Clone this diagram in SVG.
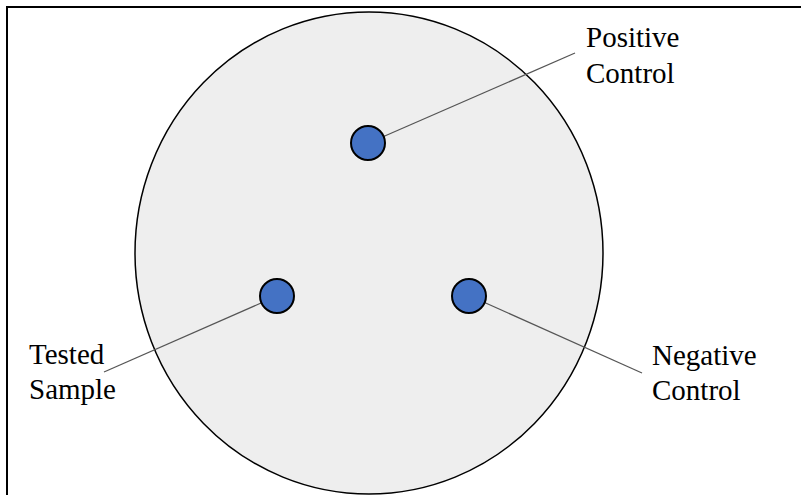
<svg xmlns="http://www.w3.org/2000/svg" width="801" height="495" viewBox="0 0 801 495">
  <style>
    .frame { fill: none; stroke: #000; stroke-width: 2; }
    .plate { fill: #eeeeee; stroke: #000; stroke-width: 1.5; }
    .well { fill: #4472c4; stroke: #000; stroke-width: 2; }
    .leader { stroke: #555; stroke-width: 1.2; fill: none; }
    .label { font-family: "Liberation Serif", "Times New Roman", serif; font-size: 29px; fill: #000; }
  </style>
  <rect width="801" height="495" fill="#fff"/>
  <path class="frame" d="M7 520 V7 H820"/>
  <g id="plate">
    <ellipse class="plate" cx="369" cy="253" rx="234" ry="241"/>
  </g>
  <g id="connectors">
    <line class="leader" x1="371" y1="142" x2="575" y2="53"/>
    <line class="leader" x1="277" y1="296" x2="104" y2="372"/>
    <line class="leader" x1="470" y1="296" x2="642" y2="373"/>
  </g>
  <g id="positive-control">
    <circle class="well" cx="368" cy="143" r="17"/>
    <text class="label" x="586" y="47">Positive</text>
    <text class="label" x="586" y="83">Control</text>
  </g>
  <g id="tested-sample">
    <circle class="well" cx="277" cy="296" r="17"/>
    <text class="label" x="29" y="364">Tested</text>
    <text class="label" x="29" y="399">Sample</text>
  </g>
  <g id="negative-control">
    <circle class="well" cx="469" cy="296" r="17"/>
    <text class="label" x="652" y="365">Negative</text>
    <text class="label" x="652" y="400">Control</text>
  </g>
</svg>
